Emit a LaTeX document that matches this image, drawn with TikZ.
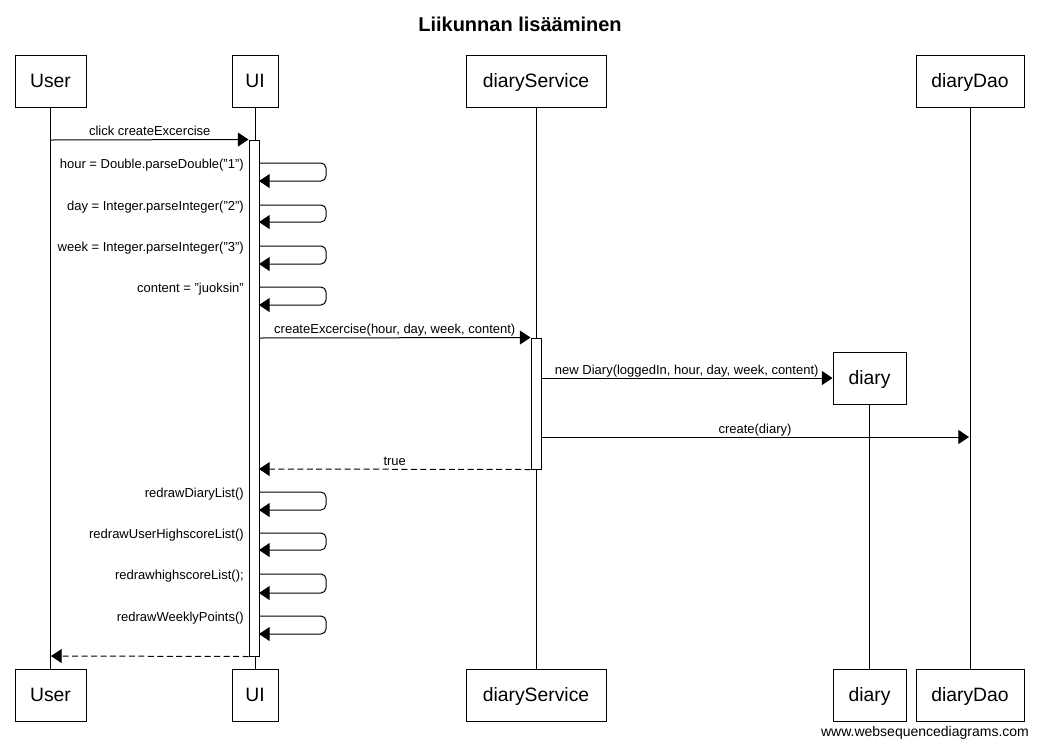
\documentclass[tikz,border=0pt]{standalone}
\usepackage{fontspec}
\setmainfont{Liberation Sans}
\usetikzlibrary{arrows.meta}
\newcommand\sqloop[3]{%
  \coordinate (ls#1) at (259,#1);
  \coordinate (le#1) at (259,#2);
  \draw[msg, rounded corners=3.75pt] (ls#1) -- (326,#1) -- (326,#2) -- (le#1);
  \node[lbl, anchor=base east] (lt#1) at (244,#1+5) {#3};}
\begin{document}
\begin{tikzpicture}[x=0.75pt,y=-0.75pt,
  part/.style={draw, line width=0.75pt, fill=white, inner sep=0pt, minimum height=39pt,
    text height=10.2pt, text depth=0pt,
    font=\fontsize{14.5}{17}\selectfont},
  bar/.style={draw, line width=0.75pt, fill=white, inner sep=0pt, minimum width=7.5pt},
  life/.style={line width=0.75pt},
  msg/.style={line width=0.75pt, -{Triangle[length=8pt,width=10.5pt]}},
  ret/.style={msg, dash pattern=on 4.5pt off 2.6pt},
  lbl/.style={inner sep=0pt, font=\fontsize{9.75}{11}\selectfont},
  mlbl/.style={lbl, anchor=base, yshift=3pt}
]
\useasboundingbox (0,0) rectangle (1039,747);
\node[font=\bfseries\fontsize{15}{18}\selectfont, anchor=base] (title) at (520,31) {Liikunnan lisääminen};

% top participants
\node[part, minimum width=53.25pt] (user) at (50.5,81) {User};
\node[part, minimum width=34.5pt] (ui) at (255,81) {UI};
\node[part, minimum width=105pt] (ds) at (536,81) {diaryService};
\node[part, minimum width=81pt] (dao) at (970,81) {diaryDao};
% bottom participants
\node[part, minimum width=53.25pt] (userb) at (50.5,695) {User};
\node[part, minimum width=34.5pt] (uib) at (255,695) {UI};
\node[part, minimum width=105pt] (dsb) at (536,695) {diaryService};
\node[part, minimum width=54.75pt] (diaryb) at (869.5,695) {diary};
\node[part, minimum width=81pt] (daob) at (970,695) {diaryDao};
% created object
\node[part, minimum width=54.75pt] (diary) at (869.5,378) {diary};

% lifelines
\draw[life] (user.south) -- (userb.north);
\draw[life] (ui.south) -- (uib.north);
\draw[life] (ds.south) -- (dsb.north);
\draw[life] (dao.south) -- (daob.north);
\draw[life] (diary.south) -- (diaryb.north);

% activation bars
\node[bar, minimum height=387pt] (uibar) at (254,398) {};
\node[bar, minimum height=98.25pt] (dsbar) at (536,403.5) {};

% messages
\coordinate (u140) at (51,140);
\draw[msg] (u140) -- (uibar.north west) node[mlbl, midway] {click createExcercise};

\sqloop{163}{181}{hour = Double.parseDouble("1")}
\sqloop{205}{222}{day = Integer.parseInteger("2")}
\sqloop{246}{264}{week = Integer.parseInteger("3")}
\sqloop{287}{305}{content = "juoksin"}

\coordinate (ui338) at (259,338);
\draw[msg] (ui338) -- (dsbar.north west) node[mlbl, midway] {createExcercise(hour, day, week, content)};

\coordinate (ds378) at (541,378);
\draw[msg] (ds378) -- (diary.west) node[mlbl, midway] {new Diary(loggedIn, hour, day, week, content)};

\coordinate (ds437) at (541,437);
\coordinate (dao437) at (969,437);
\draw[msg] (ds437) -- (dao437) node[mlbl, midway] {create(diary)};

\coordinate (ui469) at (259,469);
\draw[ret] (dsbar.south west) -- (ui469) node[mlbl, midway] {true};

\sqloop{492}{510}{redrawDiaryList()}
\sqloop{533}{550}{redrawUserHighscoreList()}
\sqloop{574}{593}{redrawhighscoreList();}
\sqloop{616}{634}{redrawWeeklyPoints()}

\coordinate (u656) at (51,656);
\draw[ret] (uibar.south west) -- (u656);

\node[font=\fontsize{10.5}{12}\selectfont, anchor=base] (wm) at (925,736) {www.websequencediagrams.com};
\end{tikzpicture}
\end{document}
